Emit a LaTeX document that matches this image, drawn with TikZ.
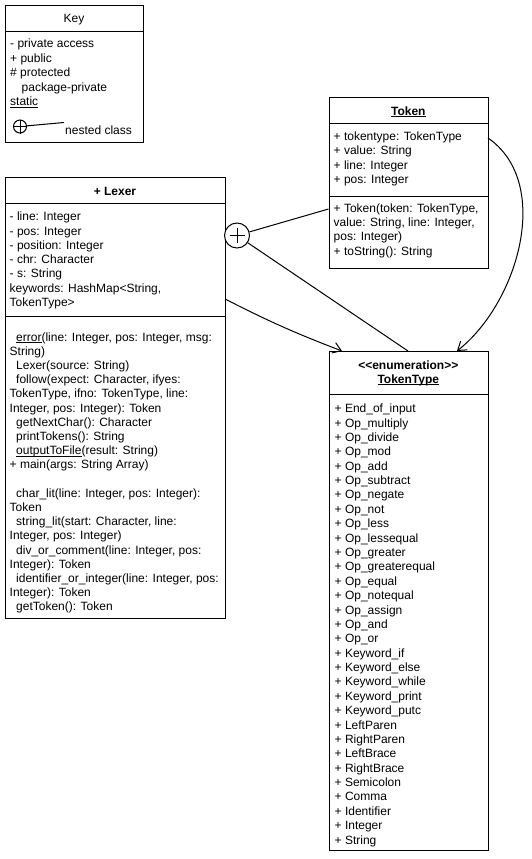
\documentclass[tikz,border=0pt]{standalone}
\usepackage{fontspec}
\setmainfont{Liberation Sans}
\usetikzlibrary{arrows.meta}
% underline drawn just below the baseline, crossing descenders
\newsavebox\ulnbox
\newcommand\uln[1]{\sbox\ulnbox{#1}\rlap{\rule[-1.7pt]{\wd\ulnbox}{0.8pt}}\usebox\ulnbox}
\begin{document}
\begin{tikzpicture}[x=1pt,y=-1pt,
  every node/.style={inner sep=0pt, font=\fontsize{12}{14.4}\selectfont},
  txt/.style={anchor=base west},
  title/.style={anchor=base, font=\fontsize{12}{14.4}\selectfont\bfseries},
  umlbox/.style={draw, line width=1pt, fill=white, anchor=north west},
  conn/.style={line width=1pt},
  openarrow/.style={-{Straight Barb[length=8pt,width=11pt,line width=1pt]}}
]
\useasboundingbox (0,0) rectangle (531,859);

% ---------- Key ----------
\node[umlbox, minimum width=138pt, minimum height=137pt] (key) at (5,5) {};
\draw[conn] (key.west |- 0,32) -- (key.east |- 0,32);
\node[anchor=base] (keytitle) at (74,22.5) {Key};
\foreach \t [count=\i from 0] in {{- private access},{+ public},{\# protected},{\hspace{11.5pt}package-private},{\uln{static}}}
  \node[txt] (key\i) at (10,{48+14.4*\i}) {\t};
\node[circle, draw, line width=1pt, minimum size=13pt] (keyc) at (20,126.5) {};
\draw[conn] (keyc.west) -- (keyc.east) (keyc.north) -- (keyc.south);
\coordinate (keyend) at (64,122.5);
\draw[conn] (keyc) -- (keyend);
\node[txt] (keynested) at (65,134) {nested class};

% ---------- Token ----------
\node[umlbox, minimum width=159.5pt, minimum height=171pt] (token) at (328.5,97) {};
\draw[conn] (token.west |- 0,123) -- (token.east |- 0,123);
\draw[conn] (token.west |- 0,196) -- (token.east |- 0,196);
\node[title] (tokentitle) at (408.3,115) {\uln{Token}};
\foreach \t [count=\i from 0] in {{+ tokentype: TokenType},{+ value: String},{+ line: Integer},{+ pos: Integer}}
  \node[txt] (toka\i) at (333.5,{140.5+14.4*\i}) {\t};
\foreach \t [count=\i from 0] in {{+ Token(token: TokenType,},{value: String, line: Integer,},{pos: Integer)},{+ toString(): String}}
  \node[txt] (tokm\i) at (333.5,{212+14.4*\i}) {\t};

% ---------- Lexer ----------
\node[umlbox, minimum width=220pt, minimum height=441pt] (lexer) at (5,177) {};
\draw[conn] (lexer.west |- 0,203) -- (lexer.east |- 0,203);
\draw[conn] (lexer.west |- 0,316) -- (lexer.east |- 0,316);
\node[title] (lexertitle) at (115,195) {+ Lexer};
\foreach \t [count=\i from 0] in {{- line: Integer},{- pos: Integer},{- position: Integer},{- chr: Character},{- s: String},{keywords: HashMap<String,},{TokenType>}}
  \node[txt] (lexa\i) at (9.5,{220.7+14.3*\i}) {\t};
\foreach \t [count=\i from 0] in {
  {\hspace{6.5pt}\uln{error}(line: Integer, pos: Integer, msg:},
  {String)},
  {\hspace{6.5pt}Lexer(source: String)},
  {\hspace{6.5pt}follow(expect: Character, ifyes:},
  {TokenType, ifno: TokenType, line:},
  {Integer, pos: Integer): Token},
  {\hspace{6.5pt}getNextChar(): Character},
  {\hspace{6.5pt}printTokens(): String},
  {\hspace{6.5pt}\uln{outputToFile}(result: String)},
  {+ main(args: String Array)}}
  \node[txt] (lexm\i) at (9.5,{341+14.2*\i}) {\t};
\foreach \t [count=\i from 0] in {
  {\hspace{6.5pt}char\_lit(line: Integer, pos: Integer):},
  {Token},
  {\hspace{6.5pt}string\_lit(start: Character, line:},
  {Integer, pos: Integer)},
  {\hspace{6.5pt}div\_or\_comment(line: Integer, pos:},
  {Integer): Token},
  {\hspace{6.5pt}identifier\_or\_integer(line: Integer, pos:},
  {Integer): Token},
  {\hspace{6.5pt}getToken(): Token}}
  \node[txt] (lexn\i) at (9.5,{341+14.2*(\i+11)}) {\t};

% ---------- TokenType ----------
\node[umlbox, minimum width=159.5pt, minimum height=499pt] (ttype) at (328.5,351) {};
\draw[conn] (ttype.west |- 0,394) -- (ttype.east |- 0,394);
\node[title] (ttstereo) at (408.3,369) {<\kern0pt<enumeration>\kern0pt>};
\node[title] (tttitle) at (408.3,383) {\uln{TokenType}};
\foreach \t [count=\i from 0] in {End\_of\_input,Op\_multiply,Op\_divide,Op\_mod,Op\_add,Op\_subtract,Op\_negate,Op\_not,Op\_less,Op\_lessequal,Op\_greater,Op\_greaterequal,Op\_equal,Op\_notequal,Op\_assign,Op\_and,Op\_or,Keyword\_if,Keyword\_else,Keyword\_while,Keyword\_print,Keyword\_putc,LeftParen,RightParen,LeftBrace,RightBrace,Semicolon,Comma,Identifier,Integer,String}
  \node[txt] (tt\i) at (334.5,{412.7+14.38*\i}) {+ \t};

% ---------- connectors ----------
\coordinate (tokL) at (328.5,209);
\coordinate (tokR) at (488,138);
\coordinate (lexR) at (225,299);
\coordinate (ttA) at (342,351);
\coordinate (ttB) at (408,351);
\coordinate (ttC) at (457,351);

\node[circle, draw, line width=1pt, fill=white, minimum size=25pt] (nest) at (237,235.5) {};
\draw[conn] ([xshift=-7.5pt]nest.center) -- ([xshift=7.5pt]nest.center)
            ([yshift=-7.5pt]nest.center) -- ([yshift=7.5pt]nest.center);
\draw[conn] (nest) -- (tokL);
\draw[conn] (nest) -- (ttB);
\draw[conn, openarrow] (lexR) to[bend right=3] (ttA);
\draw[conn, openarrow] (tokR) .. controls (553,183) and (518,303) .. (ttC);
\end{tikzpicture}
\end{document}
